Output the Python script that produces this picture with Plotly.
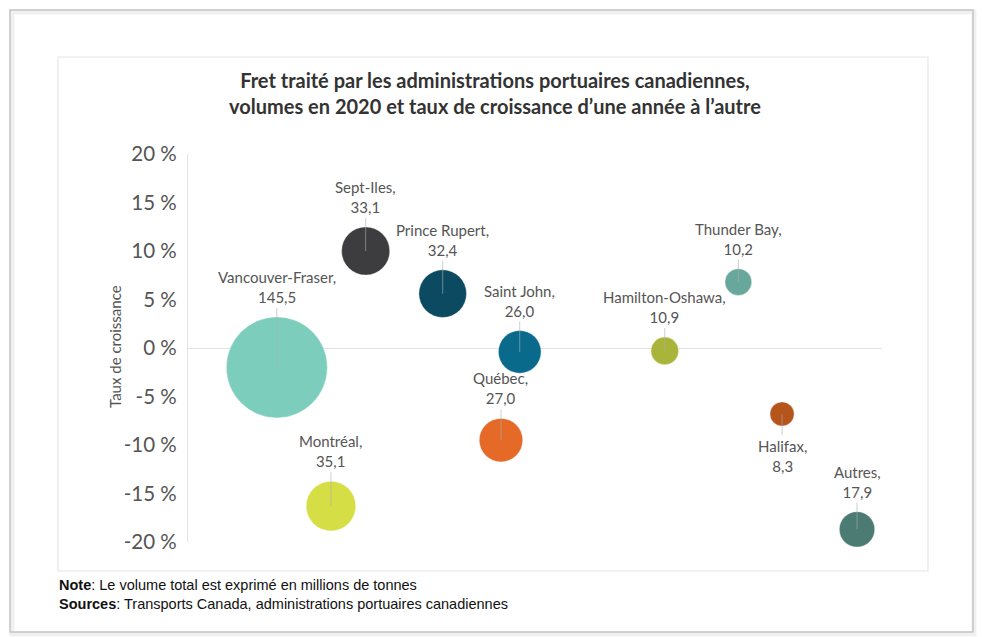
import math
import plotly.graph_objects as go

# ---- data ----
ports = ["Vancouver-Fraser", "Montréal", "Sept-Iles", "Prince Rupert", "Québec",
         "Saint John", "Hamilton-Oshawa", "Thunder Bay", "Halifax", "Autres"]
volumes = [145.5, 35.1, 33.1, 32.4, 27.0, 26.0, 10.9, 10.2, 8.3, 17.9]
growth = [-2.0, -16.3, 10.0, 5.6, -9.5, -0.4, -0.3, 6.8, -6.8, -18.7]
x_pos = [12.8, 20.6, 25.6, 36.7, 45.1, 47.8, 68.7, 79.3, 85.6, 96.4]
label_below = [False, False, False, False, False, False, False, False, True, False]
colors = ["#7dcdbd", "#d5df45", "#3d3d3f", "#0c4a62", "#e56a28",
          "#0a6a8c", "#a9b53a", "#68a89c", "#b5541b", "#4b7b72"]
y_ticks = [20, 15, 10, 5, 0, -5, -10, -15, -20]
y_ticktext = ["20 %", "15 %", "10 %", "5 %", "0 %", "-5 %", "-10 %", "-15 %", "-20 %"]

title_text = ("<b>Fret traité par les administrations portuaires canadiennes,</b><br>"
              "<b>volumes en 2020 et taux de croissance d’une année à l’autre</b>")
note_text = ("<b>Note</b>: Le volume total est exprimé en millions de tonnes<br>"
             "<b>Sources</b>: Transports Canada, administrations portuaires canadiennes")

# ---- layout geometry (pixels) ----
W, H = 982, 637
L, R, T, B = 188, 100, 154, 95
PW, PH = W - L - R, H - T - B
FONT = "Lato"
GRAY = "#555555"


def px_x(px):
    return (px - L) / PW


def px_y(py):
    return (H - B - py) / PH


max_d = 101.0
sizeref = 2 * max(volumes) / (max_d ** 2)


def diam(v):
    return 2 * math.sqrt(v / (2 * sizeref))


fig = go.Figure()
fig.add_trace(go.Scatter(
    x=x_pos, y=growth, mode="markers", cliponaxis=False,
    marker=dict(size=volumes, sizemode="area", sizeref=sizeref, color=colors,
                opacity=1, line=dict(width=0.6, color="rgba(255,255,255,0.6)")),
    hoverinfo="skip", showlegend=False,
))

gap = 9
for name, v, g, xv, below in zip(ports, volumes, growth, x_pos, label_below):
    r = diam(v) / 2
    txt = f"{name},<br>{str(v).replace('.', ',')}"
    fig.add_annotation(
        x=xv, y=g, xref="x", yref="y", text=txt,
        showarrow=True, arrowhead=0, arrowwidth=0.8,
        arrowcolor="rgba(175,175,175,0.75)", standoff=0,
        ax=0, ay=(r + gap) if below else -(r + gap),
        xanchor="center", yanchor="top" if below else "bottom",
        font=dict(family=FONT, size=15, color=GRAY), align="center",
    )

# title
fig.add_annotation(x=px_x(495), y=px_y(93), xref="paper", yref="paper",
                   text=title_text, showarrow=False, xanchor="center", yanchor="middle",
                   font=dict(family=FONT, size=20, color="#333333"), align="center")
# y axis title
fig.add_annotation(x=px_x(115), y=px_y(347), xref="paper", yref="paper",
                   text="Taux de croissance", showarrow=False, textangle=-90,
                   xanchor="center", yanchor="middle",
                   font=dict(family=FONT, size=15, color=GRAY))
# notes
fig.add_annotation(x=px_x(57), y=px_y(575), xref="paper", yref="paper",
                   text=note_text, showarrow=False, xanchor="left", yanchor="top",
                   align="left", font=dict(family="Liberation Sans", size=14.5, color="#111111"))

# frames
fig.add_shape(type="rect", xref="paper", yref="paper",
              x0=px_x(12), x1=px_x(974), y0=px_y(634), y1=px_y(12),
              line=dict(color="rgba(0,0,0,0.06)", width=5), layer="below")
fig.add_shape(type="rect", xref="paper", yref="paper",
              x0=px_x(10), x1=px_x(973), y0=px_y(632), y1=px_y(10),
              line=dict(color="#c4c4c4", width=1.5), layer="below")
fig.add_shape(type="rect", xref="paper", yref="paper",
              x0=px_x(58), x1=px_x(928), y0=px_y(571), y1=px_y(57),
              line=dict(color="#e6e6e6", width=1.2), layer="below")

fig.update_xaxes(range=[0, 100], visible=False, fixedrange=True)
fig.update_yaxes(range=[-20, 20], tickvals=y_ticks, ticktext=y_ticktext,
                 showgrid=False, zeroline=True, zerolinecolor="#e3e3e3", zerolinewidth=1.2,
                 showline=True, linecolor="#e3e3e3", linewidth=1.2,
                 ticks="", ticklabelstandoff=6,
                 tickfont=dict(family=FONT, size=20.5, color=GRAY), fixedrange=True)

fig.update_layout(width=W, height=H, autosize=False,
                  margin=dict(l=L, r=R, t=T, b=B),
                  paper_bgcolor="white", plot_bgcolor="white",
                  showlegend=False)

fig.write_html("out.html", config={"displayModeBar": False},
               post_script="document.body.style.margin='0px';document.body.style.overflow='hidden';")
